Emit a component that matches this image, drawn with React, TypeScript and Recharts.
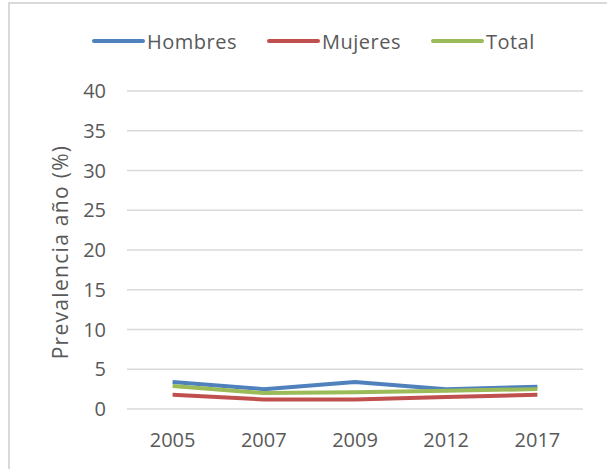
import { LineChart, Line, XAxis, YAxis, CartesianGrid, Legend } from "recharts";

const years = ["2005", "2007", "2009", "2012", "2017"];
const hombres = [3.4, 2.5, 3.4, 2.5, 2.8];
const mujeres = [1.8, 1.2, 1.2, 1.5, 1.8];
const total = [2.9, 2.0, 2.1, 2.3, 2.5];
const yTicks = [0, 5, 10, 15, 20, 25, 30, 35, 40];

const series = [
  { key: "hombres", label: "Hombres", color: "#4F81BD" },
  { key: "mujeres", label: "Mujeres", color: "#C0504D" },
  { key: "total", label: "Total", color: "#9BBB59" },
];

const data = years.map((year, i) => ({
  year,
  hombres: hombres[i],
  mujeres: mujeres[i],
  total: total[i],
}));

const font = "'Open Sans', sans-serif";
const textColor = "#595959";

function LegendContent() {
  return (
    <div
      style={{
        height: 65,
        display: "flex",
        alignItems: "flex-start",
        paddingLeft: 92,
        fontFamily: font,
        fontSize: 20,
        color: textColor,
      }}
    >
      {series.map((s, i) => (
        <div
          key={s.key}
          style={{
            display: "flex",
            alignItems: "center",
            height: 30,
            marginLeft: i === 0 ? 0 : 30,
          }}
        >
          <div
            style={{
              width: 53,
              height: 4,
              borderRadius: 2,
              background: s.color,
              marginRight: 2,
            }}
          />
          <span style={{ letterSpacing: 0.5 }}>{s.label}</span>
        </div>
      ))}
    </div>
  );
}

function YLabel(props: any) {
  const vb = props.viewBox;
  const x = 60;
  const y = vb.y + vb.height / 2 + 2;
  return (
    <text
      x={x}
      y={y}
      transform={`rotate(-90, ${x}, ${y})`}
      textAnchor="middle"
      dominantBaseline="central"
      fontFamily={font}
      fontSize={21}
      letterSpacing={1.3}
      fill={textColor}
    >
      Prevalencia año (%)
    </text>
  );
}

export default function App() {
  return (
    <div
      style={{
        position: "absolute",
        left: 0,
        top: 0,
        width: 607,
        height: 469,
        background: "#fff",
      }}
    >
      <div
        style={{
          position: "absolute",
          left: 8,
          top: 2,
          width: 620,
          height: 480,
          borderLeft: "2px solid #d9d9d9",
          borderTop: "2px solid #d9d9d9",
        }}
      />
      <LineChart
        width={607}
        height={469}
        data={data}
        margin={{ top: 26, right: 24, bottom: 0, left: 40 }}
        style={{ position: "absolute", left: 0, top: 0 }}
      >
        <CartesianGrid vertical={false} stroke="#d9d9d9" strokeWidth={1.5} />
        <XAxis
          dataKey="year"
          axisLine={false}
          tickLine={false}
          tickSize={0}
          tickMargin={24}
          padding={{ left: 45.6, right: 45.6 }}
          tick={{ fill: textColor, fontSize: 20, fontFamily: font }}
          height={60}
        />
        <YAxis
          width={87}
          domain={[0, 40]}
          ticks={yTicks}
          interval={0}
          axisLine={false}
          tickLine={false}
          tickSize={0}
          tickMargin={21}
          tick={{ fill: textColor, fontSize: 20, fontFamily: font }}
          label={<YLabel />}
        />
        <Legend
          verticalAlign="top"
          align="left"
          wrapperStyle={{ left: 0, width: 607 }}
          content={<LegendContent />}
        />
        {series.map((s) => (
          <Line
            key={s.key}
            dataKey={s.key}
            name={s.label}
            stroke={s.color}
            strokeWidth={4}
            dot={false}
            activeDot={false}
            isAnimationActive={false}
          />
        ))}
      </LineChart>
    </div>
  );
}
